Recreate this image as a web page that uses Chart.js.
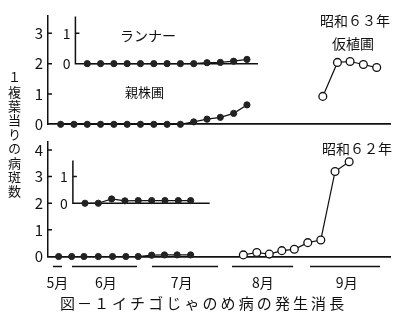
<!DOCTYPE html>
<html>
<head>
<meta charset="utf-8">
<script src="https://cdn.jsdelivr.net/npm/chart.js@4.4.1/dist/chart.umd.min.js"></script>
<style>
    body { margin: 0; background: #fff; }
    #wrap { position: relative; width: 400px; height: 324px; overflow: hidden;
            font-family: "Noto Sans CJK JP", sans-serif; color: #111; }
    canvas { position: absolute; left: 0; top: 0; }
    .t { position: absolute; white-space: nowrap; line-height: 1; }
</style>
</head>
<body>
<div id="wrap">
    <canvas id="chart63" width="400" height="324"></canvas>
    <canvas id="chart62" width="400" height="324"></canvas>
    <div class="t" style="left:8px;top:71px;writing-mode:vertical-rl;text-orientation:upright;font-size:13px;letter-spacing:1.2px;">１複葉当りの病斑数</div>
    <div class="t" style="left:120px;top:28px;font-size:14px;">ランナー</div>
    <div class="t" style="left:125px;top:85px;font-size:13px;">親株圃</div>
    <div class="t" style="left:320px;top:13px;font-size:14px;">昭和６３年</div>
    <div class="t" style="left:332px;top:36px;font-size:14px;">仮植圃</div>
    <div class="t" style="left:322px;top:141px;font-size:14px;">昭和６２年</div>
    <div class="t" style="left:60px;top:295px;font-size:15px;letter-spacing:2px;">図－１</div>
    <div class="t" style="left:112px;top:295px;font-size:15px;letter-spacing:3.1px;">イチゴじゃのめ病の発生消長</div>
</div>
<script>
// x = survey step (roughly every 6 days)

// 昭和63年 (top panel)
const oyakabuX63 = [0, 1, 2, 3, 4, 5, 6, 7, 8, 9, 10, 11, 12, 13, 14];
const oyakabu63 = [0, 0, 0, 0, 0, 0, 0, 0, 0, 0, 0.08, 0.17, 0.23, 0.36, 0.64];
const runnerX63 = [2, 3, 4, 5, 6, 7, 8, 9, 10, 11, 12, 13, 14];
const runner63 = [0, 0, 0, 0, 0, 0, 0, 0, 0, 0.03, 0.04, 0.08, 0.14];
const karishokuX63 = [19.7, 20.8, 21.75, 22.75, 23.75];
const karishoku63 = [0.92, 2.04, 2.07, 1.97, 1.87];

// 昭和62年 (bottom panel)
const oyakabuX62 = [-0.15, 0.83, 1.75, 2.83, 3.9, 4.9, 5.83, 6.84, 7.8, 8.75, 9.77];
const oyakabu62 = [0, 0, 0, 0, 0, 0, 0, 0.05, 0.06, 0.06, 0.06];
const runnerX62 = [1.83, 2.83, 3.83, 4.83, 5.83, 6.84, 7.84, 8.84, 9.77];
const runner62 = [0, 0, 0.16, 0.09, 0.1, 0.1, 0.1, 0.1, 0.1];
const fieldX62 = [13.73, 14.74, 15.68, 16.62, 17.56, 18.57, 19.55, 20.62, 21.68];
const field62 = [0.06, 0.15, 0.09, 0.22, 0.27, 0.52, 0.62, 3.19, 3.56];

// months along the bottom
const monthLabels = ['5月', '6月', '7月', '8月', '9月'];
const monthMid = [-0.25, 3.4, 9.1, 15.2, 21.5];
const monthFrom = [-0.58, 0.85, 6.86, 12.88, 18.74];
const monthTo = [0.1, 5.74, 11.83, 17.47, 24.0];

const ticks63 = [0, 1, 2, 3];
const ticks62 = [0, 1, 2, 3, 4];
const insetTicks = [0, 1];

const ink = '#111';
const font = "'Noto Sans CJK JP', sans-serif";

const pts = (xs, ys) => xs.map((x, i) => ({ x: x, y: ys[i] }));

function filled(xs, ys, axis) {
    return {
        data: pts(xs, ys), yAxisID: axis,
        borderColor: ink, borderWidth: 1.2,
        pointRadius: 3.1, pointBackgroundColor: '#222', pointBorderColor: '#222',
        pointBorderWidth: 1, clip: false
    };
}

function open(xs, ys) {
    return {
        data: pts(xs, ys), yAxisID: 'y',
        borderColor: ink, borderWidth: 1.2,
        pointRadius: 3.9, pointBackgroundColor: '#fff', pointBorderColor: ink,
        pointBorderWidth: 1.3, clip: false
    };
}

// inset axes (ランナー), inward tick marks and month bars
const panelPlugin = {
    id: 'panel',
    beforeDatasetsDraw(chart, args, opts) {
        const { ctx } = chart;
        const x = chart.scales.x, y = chart.scales.y, y2 = chart.scales.y2;
        ctx.save();
        ctx.strokeStyle = ink;
        ctx.fillStyle = ink;
        ctx.lineWidth = 1.5;

        // main axis ticks pointing inward
        ctx.beginPath();
        y.ticks.forEach(t => {
            if (t.value === 0) return;
            const py = y.getPixelForValue(t.value);
            ctx.moveTo(y.right, py);
            ctx.lineTo(y.right + 4, py);
        });
        ctx.stroke();

        // inset axis
        const ax = x.getPixelForValue(opts.from);
        const base = y2.getPixelForValue(0);
        ctx.beginPath();
        ctx.moveTo(ax, y2.getPixelForValue(opts.top));
        ctx.lineTo(ax, base);
        ctx.lineTo(x.getPixelForValue(opts.to), base);
        insetTicks.forEach(v => {
            if (v === 0) return;
            const py = y2.getPixelForValue(v);
            ctx.moveTo(ax, py);
            ctx.lineTo(ax + 4, py);
        });
        ctx.stroke();

        ctx.font = '14px ' + font;
        ctx.textAlign = 'right';
        ctx.textBaseline = 'middle';
        insetTicks.forEach(v => {
            ctx.fillText(String(v), ax - 5, y2.getPixelForValue(v));
        });

        // month span bars under the axis
        if (opts.months) {
            const by = chart.chartArea.bottom + 10;
            ctx.beginPath();
            monthFrom.forEach((m, i) => {
                ctx.moveTo(x.getPixelForValue(m), by);
                ctx.lineTo(x.getPixelForValue(monthTo[i]), by);
            });
            ctx.stroke();
        }
        ctx.restore();
    }
};

function makeChart(id, datasets, yMax, yTicks, pad, inset, months) {
    return new Chart(document.getElementById(id), {
        type: 'line',
        data: { datasets: datasets },
        plugins: [panelPlugin],
        options: {
            responsive: false,
            devicePixelRatio: 1,
            animation: false,
            events: [],
            layout: { padding: pad },
            plugins: {
                legend: { display: false },
                tooltip: { enabled: false },
                panel: Object.assign({ months: months }, inset)
            },
            scales: {
                x: {
                    type: 'linear', min: -0.95, max: 24.75,
                    border: { display: true, color: ink, width: 1.8 },
                    grid: { display: true, drawOnChartArea: false, drawTicks: false },
                    afterFit: (s) => { s.height = months ? 40 : 0; },
                    afterBuildTicks: (s) => {
                        s.ticks = months ? monthMid.map(v => ({ value: v })) : [];
                    },
                    ticks: {
                        display: months, autoSkip: false, maxRotation: 0,
                        padding: 18, color: ink,
                        font: { family: font, size: 14 },
                        callback: (v, i) => monthLabels[i]
                    }
                },
                y: {
                    min: 0, max: yMax,
                    border: { display: true, color: ink, width: 1.5 },
                    grid: { display: true, drawOnChartArea: false, drawTicks: false },
                    afterFit: (s) => { s.width = 30; },
                    afterBuildTicks: (s) => { s.ticks = yTicks.map(v => ({ value: v })); },
                    ticks: {
                        padding: 5, color: ink,
                        font: { family: font, size: 15 }
                    }
                },
                y2: {
                    min: -2, max: yMax - 2,
                    display: false
                }
            }
        }
    });
}

makeChart('chart63', [
    filled(oyakabuX63, oyakabu63, 'y'),
    filled(runnerX63, runner63, 'y2'),
    open(karishokuX63, karishoku63)
], 3.57, ticks63,
    { left: 18, right: 10, top: 16, bottom: 199.7 },
    { from: 1.11, to: 14.83, top: 1.55 }, false);

makeChart('chart62', [
    filled(oyakabuX62, oyakabu62, 'y'),
    filled(runnerX62, runner62, 'y2'),
    open(fieldX62, field62)
], 4.31, ticks62,
    { left: 18, right: 10, top: 141.7, bottom: 27.5 },
    { from: 0.92, to: 11.2, top: 1.6 }, true);
</script>
</body>
</html>
